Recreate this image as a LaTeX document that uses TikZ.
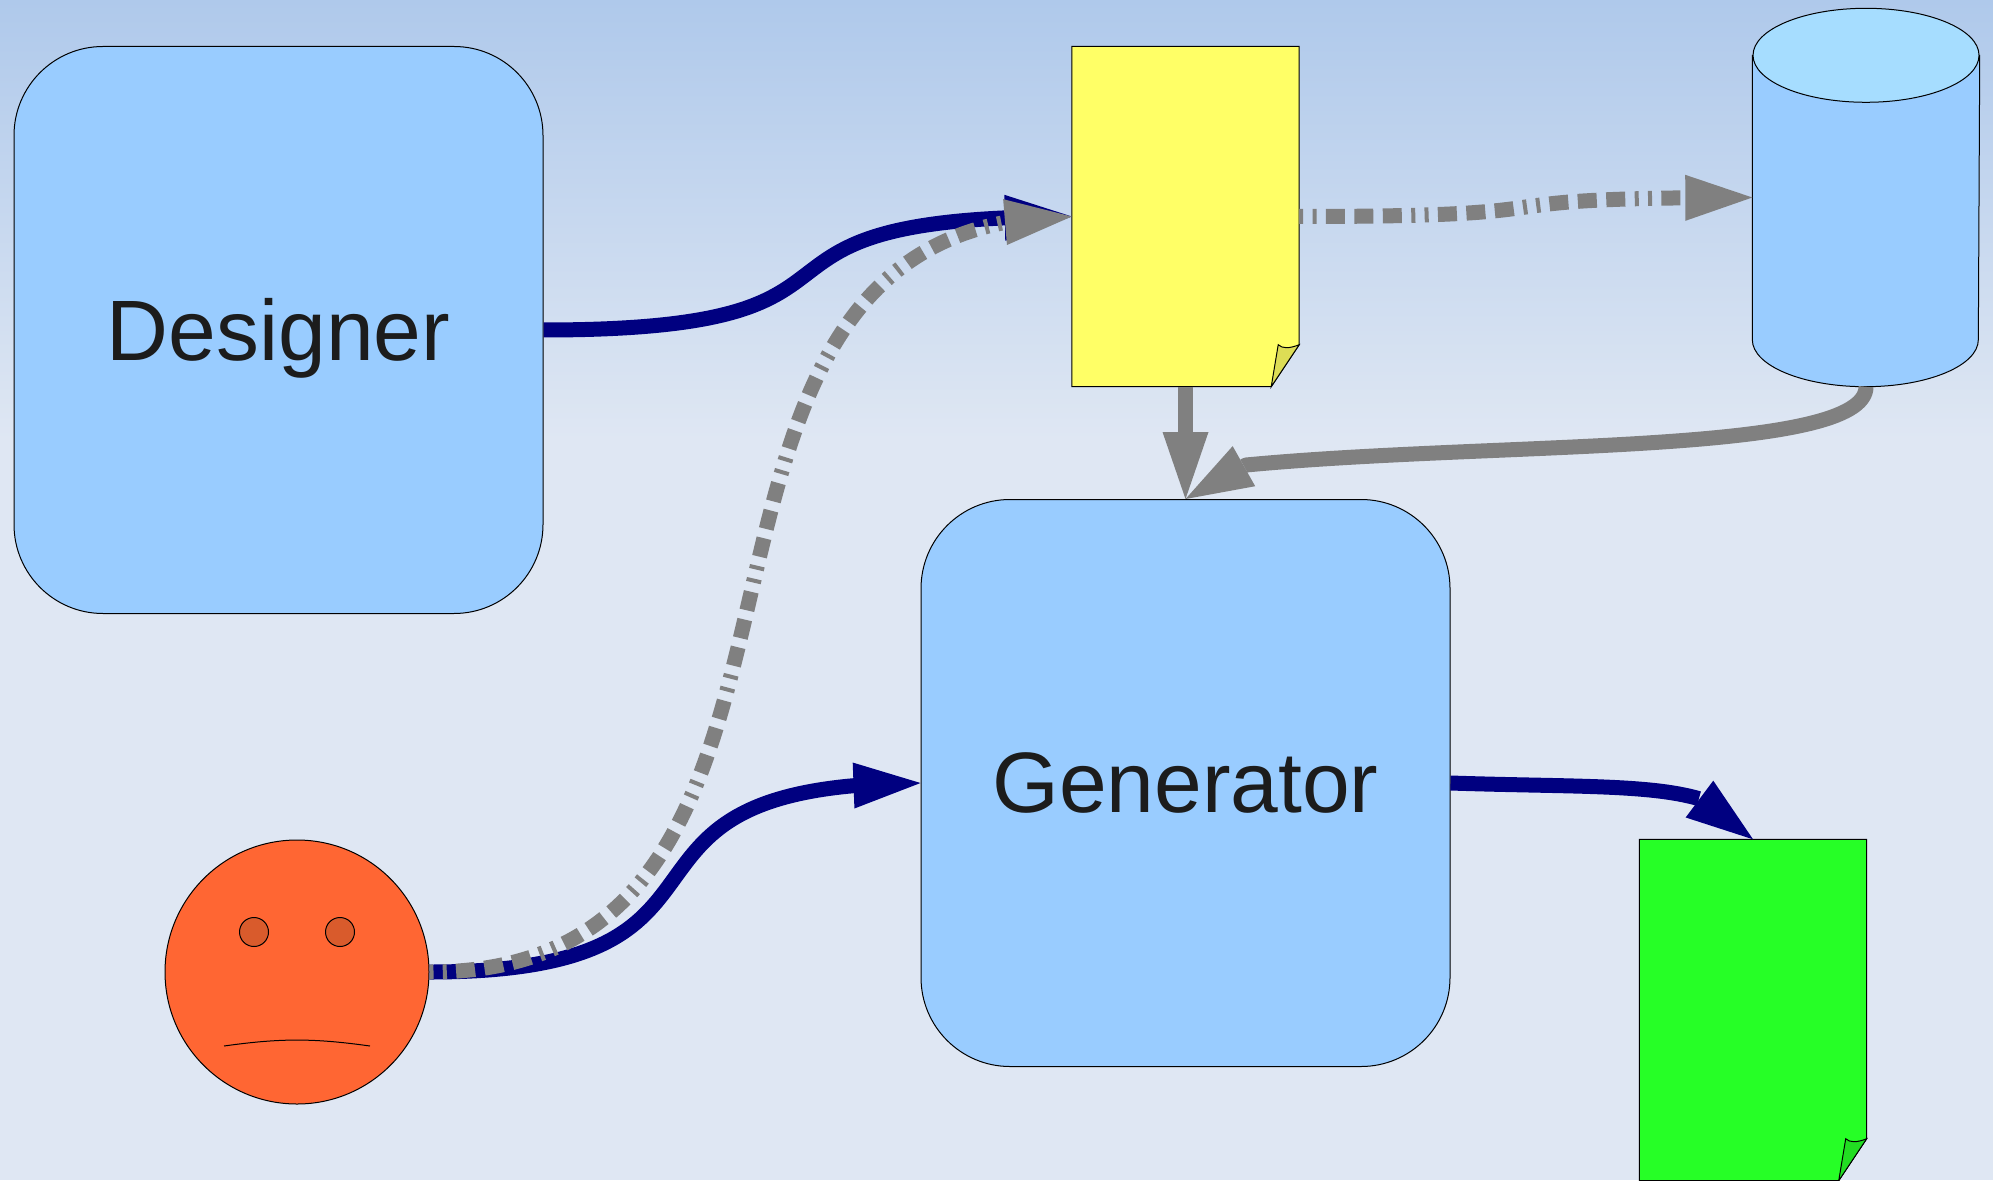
\documentclass[tikz,border=0pt]{standalone}
\usepackage{fontspec}
\setmainfont{Liberation Sans}
\usetikzlibrary{calc}
\usetikzlibrary{arrows.meta,bending}
\definecolor{skytop}{HTML}{AFC9EB}
\definecolor{skylow}{HTML}{DFE7F3}
\definecolor{boxblue}{HTML}{99CCFF}
\definecolor{lidblue}{HTML}{A6DDFF}
\definecolor{pageyellow}{HTML}{FFFF66}
\definecolor{foldyellow}{HTML}{DDDD55}
\definecolor{pagegreen}{HTML}{26FF26}
\definecolor{foldgreen}{HTML}{22DD22}
\definecolor{faceorange}{HTML}{FF6633}
\definecolor{eyeorange}{HTML}{D95B2C}
\definecolor{flownavy}{HTML}{000080}
\definecolor{flowgrey}{HTML}{808080}
\definecolor{labelblack}{HTML}{1C1C1C}
\tikzset{
  outline/.style={draw=black,line width=0.01cm},
  rolebox/.style={outline,fill=boxblue,rounded corners=0.89cm,minimum width=5.29cm,minimum height=5.67cm,inner sep=0pt,text=labelblack,font=\fontsize{24.4pt}{29pt}\selectfont},
  pagebox/.style={minimum width=2.26cm,minimum height=3.39cm,inner sep=0pt},
  flowtip/.style={-{Triangle[length=0.67cm,width=0.46cm,line width=0pt]}},
  navyflow/.style={flowtip,draw=flownavy,line width=0.15cm},
  greyflow/.style={flowtip,draw=flowgrey,line width=0.15cm},
  greydash/.style={greyflow,dash pattern=on 0.04cm off 0.093cm on 0.04cm off 0.093cm on 0.19cm off 0.095cm on 0.19cm off 0.095cm on 0.19cm off 0.095cm}
}
\newcommand{\pagesheet}[3]{
  \draw[outline,fill=#2] (#1.north west) -- (#1.north east) -- ($(#1.south east)+(0,0.42)$)
    -- ($(#1.south east)+(-0.28,0)$) -- (#1.south west) -- cycle;
  \draw[outline,fill=#3] ($(#1.south east)+(0,0.42)$) .. controls ($(#1.south east)+(-0.10,0.38)$) and ($(#1.south east)+(-0.17,0.38)$) .. ($(#1.south east)+(-0.21,0.42)$)
    -- ($(#1.south east)+(-0.28,0)$) -- cycle;
}

\begin{document}
\begin{tikzpicture}

\useasboundingbox (0,0) rectangle (19.93,11.80);
\shade[top color=skytop,bottom color=skylow] (0,7.40) rectangle (19.93,11.80);
\fill[skylow] (0,0) rectangle (19.93,7.40);

\node[rolebox,text height=0.78cm] (designer) at (2.785,8.50) {Designer};
\node[rolebox] (generator) at (11.855,3.97) {Generator};

\node[pagebox] (spec) at (11.855,9.635) {};
\pagesheet{spec}{pageyellow}{foldyellow}
\node[pagebox,minimum height=3.40cm] (output) at (17.53,1.70) {};
\pagesheet{output}{pagegreen}{foldgreen}

\node[minimum width=2.26cm,minimum height=3.77cm,inner sep=0pt] (store) at (18.66,9.825) {};
\draw[outline,fill=boxblue] ($(store.north west)+(0,-0.47)$) -- ($(store.south west)+(0,0.47)$)
  arc[start angle=180,end angle=360,x radius=1.13,y radius=0.47] -- ($(store.north east)+(0,-0.47)$) -- cycle;
\draw[outline,fill=lidblue] ($(store.north)+(0,-0.47)$) ellipse[x radius=1.13,y radius=0.47];

\node[outline,circle,fill=faceorange,minimum size=2.64cm,inner sep=0pt] (user) at (2.97,2.08) {};
\node[outline,circle,fill=eyeorange,minimum size=0.29cm,inner sep=0pt] (lefteye) at (2.54,2.48) {};
\node[outline,circle,fill=eyeorange,minimum size=0.29cm,inner sep=0pt] (righteye) at (3.40,2.48) {};
\coordinate (mouthl) at (2.24,1.34);
\coordinate (mouthr) at (3.70,1.34);
\draw[outline] (mouthl) to[bend left=8] (mouthr);

\coordinate (storebend) at (12.46,7.15);

\draw[navyflow] (designer.east) to[out=0,in=180,looseness=1.8] (spec.west);
\draw[navyflow] (user.east) to[out=0,in=180,looseness=1.72] (generator.west);
\draw[navyflow] (generator.east) .. controls +(1.80,-0.06) and +(-0.30,0.60) .. (output.north);
\draw[greydash] (user.east) to[out=0,in=180,looseness=1.2] (spec.west);
\draw[greydash] (spec.east) to[out=0,in=180,looseness=1.79] (store.west);
\draw[greyflow] (spec.south) -- (generator.north);
\draw[greyflow,line join=bevel] (store.south) .. controls +(0,-0.69) and +(2.54,0.24) .. (storebend) -- (generator.north);

\end{tikzpicture}
\end{document}
